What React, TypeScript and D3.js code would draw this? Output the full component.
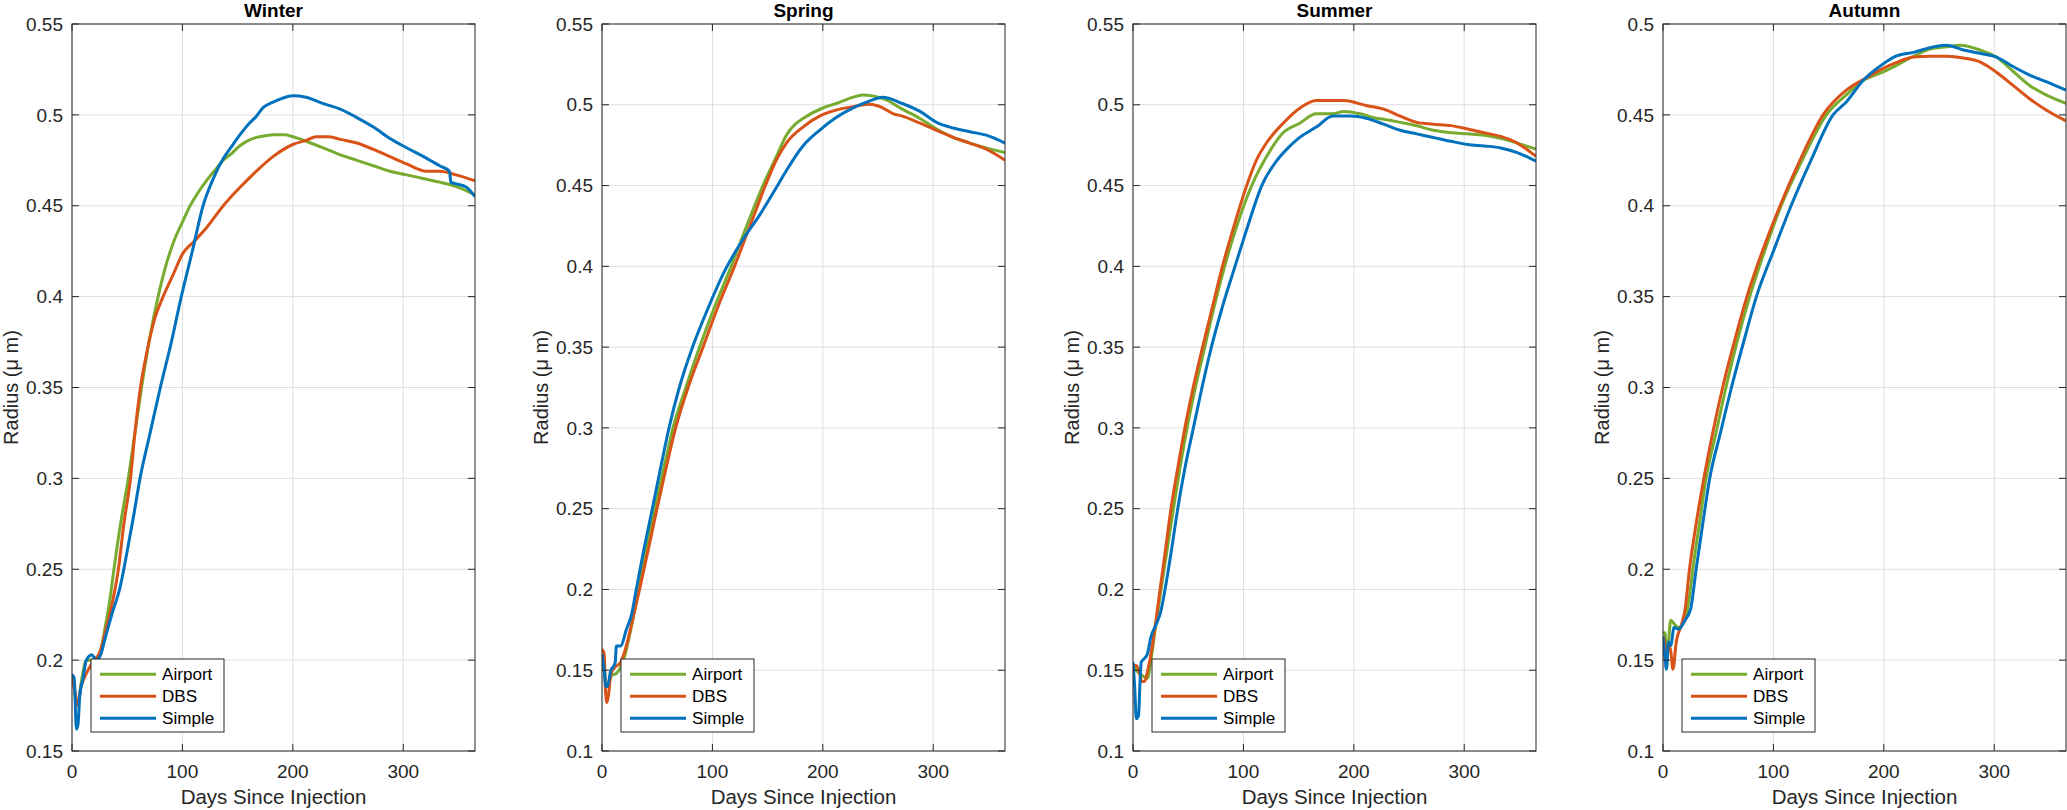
import * as d3 from "d3";

type Pt = [number, number];

// ---- data (day, radius in µm) ----
const seasons = ["Winter", "Spring", "Summer", "Autumn"];
const seriesNames = ["Airport", "DBS", "Simple"];
const seriesColors = ["#77AC30", "#D95319", "#0072BD"];
const yDomains: [number, number][] = [
  [0.15, 0.55],
  [0.1, 0.55],
  [0.1, 0.55],
  [0.1, 0.5],
];
const xTicks = [0, 100, 200, 300];

const winterAirport: Pt[] = [
  [0, 0.192], [2, 0.185], [4, 0.175], [6, 0.178], [9, 0.19], [13, 0.2], [17, 0.2], [21, 0.2],
  [25, 0.203], [30, 0.218], [34, 0.232], [38, 0.25], [44, 0.275], [51, 0.3], [57, 0.325],
  [63, 0.35], [70, 0.376], [78, 0.4], [85, 0.417], [92, 0.43], [100, 0.441], [107, 0.45],
  [115, 0.458], [122, 0.464], [130, 0.47], [137, 0.475], [145, 0.479], [152, 0.483],
  [160, 0.486], [167, 0.4876], [175, 0.4885], [182, 0.489], [193, 0.489], [200, 0.488],
  [212, 0.4855], [227, 0.482], [243, 0.478], [258, 0.475], [273, 0.472], [288, 0.469],
  [303, 0.467], [318, 0.465], [333, 0.463], [348, 0.4605], [365, 0.456],
];
const winterDBS: Pt[] = [
  [0, 0.19], [2, 0.185], [5, 0.175], [8, 0.185], [11, 0.19], [15, 0.195], [20, 0.2], [25, 0.204],
  [30, 0.215], [36, 0.23], [42, 0.25], [47, 0.275], [53, 0.3], [57, 0.325], [62, 0.35],
  [68, 0.37], [75, 0.388], [82.5, 0.4], [91.5, 0.412], [100.6, 0.424], [110, 0.43],
  [122, 0.438], [137, 0.45], [152, 0.46], [167, 0.469], [182, 0.477], [200, 0.4837],
  [212, 0.486], [221, 0.488], [233, 0.488], [243, 0.4865], [258, 0.4845], [273, 0.481],
  [288, 0.477], [303, 0.473], [321, 0.469], [333, 0.469], [348, 0.467], [365, 0.4637],
];
const winterSimple: Pt[] = [
  [0, 0.192], [2, 0.19], [4, 0.162], [5.5, 0.165], [7, 0.18], [10, 0.19], [13, 0.2], [18, 0.203],
  [22, 0.2], [26, 0.203], [30, 0.212], [36, 0.225], [43.5, 0.24], [50, 0.26], [56, 0.28],
  [61.6, 0.3], [70, 0.323], [80, 0.35], [90, 0.375], [99, 0.4], [109, 0.425], [118.7, 0.45],
  [128, 0.465], [137, 0.476], [145, 0.483], [152, 0.489], [160, 0.495], [167, 0.4993],
  [173, 0.504], [182, 0.507], [190, 0.509], [200, 0.5105], [212, 0.5097], [227, 0.5063],
  [243, 0.5032], [258, 0.4985], [273, 0.4933], [288, 0.487], [303, 0.4819], [318, 0.4772],
  [333, 0.472], [342, 0.4689], [343, 0.463], [348, 0.462], [357, 0.4603], [365, 0.455],
];

const springAirport: Pt[] = [
  [0, 0.155], [2, 0.15], [4, 0.14], [6, 0.142], [9, 0.147], [13, 0.148], [17, 0.152], [21, 0.16],
  [26, 0.175], [33, 0.2], [40, 0.225], [47.7, 0.25], [56, 0.275], [64.3, 0.3], [76, 0.325],
  [88.4, 0.35], [102, 0.375], [117, 0.4], [131, 0.425], [145.8, 0.45], [158, 0.468],
  [167, 0.4812], [175, 0.488], [182, 0.4915], [200, 0.498], [212, 0.5008], [227, 0.5046],
  [236, 0.506], [245, 0.5055], [257, 0.5032], [272, 0.4973], [288, 0.4915], [303, 0.485],
  [318, 0.4798], [333, 0.4763], [348, 0.4733], [365, 0.4704],
];
const springDBS: Pt[] = [
  [0, 0.163], [2, 0.16], [3, 0.14], [4.5, 0.13], [6, 0.135], [8, 0.148], [12, 0.152], [17, 0.155],
  [22, 0.165], [28, 0.182], [34, 0.2], [42, 0.225], [49.8, 0.25], [58, 0.275], [66.7, 0.3],
  [78, 0.325], [91.5, 0.35], [105, 0.375], [120, 0.4], [134, 0.425], [148, 0.45], [158, 0.466],
  [167, 0.4763], [182, 0.4862], [197, 0.493], [212, 0.4967], [227, 0.4988], [242, 0.5003],
  [251, 0.4991], [264, 0.4944], [272, 0.493], [288, 0.4886], [303, 0.4842], [318, 0.4798],
  [333, 0.4763], [348, 0.4725], [365, 0.4657],
];
const springSimple: Pt[] = [
  [0, 0.16], [2, 0.15], [3.5, 0.14], [5, 0.14], [8, 0.15], [10, 0.152], [12, 0.155], [13, 0.165],
  [17, 0.165], [22, 0.175], [27, 0.185], [31, 0.2], [38, 0.225], [45.6, 0.25], [53, 0.275],
  [60.7, 0.3], [70, 0.325], [82, 0.35], [96, 0.374], [111, 0.397], [127, 0.416], [143, 0.432],
  [159, 0.45], [167, 0.4593], [182, 0.4745], [197, 0.4842], [212, 0.4921],
  [227, 0.4979], [242, 0.5023], [254, 0.5047], [272, 0.5008], [288, 0.4959], [303, 0.4891],
  [318, 0.4856], [333, 0.4833], [348, 0.4812], [365, 0.4763],
];

const summerAirport: Pt[] = [
  [0, 0.153], [3, 0.15], [6, 0.148], [10, 0.146], [13, 0.145], [16, 0.155], [20, 0.175],
  [25.4, 0.2], [31, 0.225], [36.6, 0.25], [42.5, 0.275], [49, 0.3], [56.5, 0.325], [65, 0.35],
  [73.5, 0.375], [83, 0.4], [94, 0.425], [107.5, 0.45], [121, 0.468], [136, 0.4827],
  [151, 0.4886], [166, 0.4944], [181, 0.4944], [191, 0.4959], [206, 0.4944], [218, 0.492],
  [227, 0.491], [242, 0.4891], [257, 0.487], [272, 0.4842], [288, 0.4827], [303, 0.482],
  [318, 0.4812], [333, 0.4792], [348, 0.4763], [365, 0.4725],
];
const summerDBS: Pt[] = [
  [0, 0.153], [3, 0.153], [6, 0.148], [8, 0.143], [10, 0.143], [14, 0.152], [19, 0.172],
  [24.5, 0.2], [29.5, 0.225], [34.4, 0.25], [40.5, 0.275], [47, 0.3], [54.5, 0.325], [63, 0.35],
  [72, 0.375], [81, 0.4], [91.5, 0.425], [103, 0.45], [112, 0.466], [121, 0.4765],
  [136, 0.4886], [151, 0.4979], [166, 0.5026], [181, 0.5026], [191, 0.5026], [212, 0.4994],
  [227, 0.4973], [242, 0.493], [257, 0.4891], [272, 0.488], [288, 0.4871], [303, 0.485],
  [318, 0.4827], [333, 0.4804], [348, 0.4763], [365, 0.4681],
];
const summerSimple: Pt[] = [
  [0, 0.155], [1.5, 0.14], [3, 0.12], [5, 0.122], [6.5, 0.145], [7.5, 0.155], [10, 0.157],
  [13, 0.16], [16, 0.17], [22, 0.18], [25, 0.186], [29, 0.2], [35, 0.225], [40.5, 0.25],
  [47, 0.275], [54.7, 0.3], [62.5, 0.325], [71, 0.35], [81, 0.375], [92.4, 0.4], [104, 0.425],
  [116.6, 0.45], [130, 0.4652], [140, 0.473], [151, 0.4798], [166, 0.4862], [181, 0.493],
  [197, 0.493], [212, 0.4915], [227, 0.488], [242, 0.4842], [257, 0.482], [272, 0.4798],
  [288, 0.4774], [303, 0.4754], [318, 0.4745], [333, 0.4733], [348, 0.4704], [365, 0.4651],
];

const autumnAirport: Pt[] = [
  [0, 0.165], [2, 0.165], [3, 0.145], [5, 0.16], [7, 0.172], [10, 0.17], [14, 0.168], [20, 0.172],
  [24, 0.185], [27, 0.2], [33, 0.225], [39, 0.25], [48, 0.275], [57, 0.3], [67, 0.325],
  [78.5, 0.35], [92, 0.375], [107, 0.4], [126, 0.425], [148, 0.45], [166, 0.461],
  [181, 0.4688], [199, 0.4735], [211, 0.4771], [227, 0.4823], [242, 0.4862], [257, 0.4875],
  [269, 0.4883], [287, 0.4857], [302, 0.4818], [317, 0.474], [332, 0.4662], [347, 0.461],
  [365, 0.4563],
];
const autumnDBS: Pt[] = [
  [0, 0.163], [2, 0.158], [3, 0.15], [5, 0.158], [7, 0.155], [9, 0.145], [12, 0.16], [17, 0.17],
  [20, 0.178], [24, 0.2], [30, 0.225], [37, 0.25], [45, 0.275], [54, 0.3], [64.5, 0.325],
  [76, 0.35], [90, 0.375], [106, 0.4], [124, 0.425], [145, 0.45], [166, 0.4636],
  [181, 0.4693], [196, 0.4745], [211, 0.4787], [227, 0.4818], [242, 0.4823], [257, 0.4823],
  [272, 0.4813], [287, 0.4792], [302, 0.4735], [317, 0.4662], [332, 0.4589], [347, 0.4527],
  [365, 0.4467],
];
const autumnSimple: Pt[] = [
  [0, 0.163], [2, 0.15], [3, 0.145], [5, 0.16], [7, 0.158], [10, 0.168], [14, 0.167],
  [20, 0.172], [25, 0.178], [30, 0.2], [36, 0.225], [42.3, 0.25], [52, 0.275], [62, 0.3],
  [73, 0.325], [84.6, 0.35], [100, 0.375], [116, 0.4], [134, 0.425], [154, 0.45],
  [166, 0.4571], [181, 0.4688], [199, 0.4779], [211, 0.4823], [227, 0.4844], [242, 0.487],
  [257, 0.4883], [272, 0.4857], [287, 0.4839], [302, 0.4818], [317, 0.4766], [332, 0.4719],
  [347, 0.4683], [365, 0.4636],
];

const panelData: Pt[][][] = [
  [winterAirport, winterDBS, winterSimple],
  [springAirport, springDBS, springSimple],
  [summerAirport, summerDBS, summerSimple],
  [autumnAirport, autumnDBS, autumnSimple],
];

// ---- layout ----
const W = 2067;
const H = 810;
const panelLefts = [72, 602, 1133, 1663];
const plotW = 403;
const plotTop = 24;
const plotBottom = 751;
const font = "'Liberation Sans', Arial, Helvetica, sans-serif";
const axisColor = "#262626";
const gridColor = "#dfdfdf";
const tickLen = 7;

function Panel({ idx }: { idx: number }) {
  const left = panelLefts[idx];
  const right = left + plotW;
  const [lo, hi] = yDomains[idx];
  const x = d3.scaleLinear().domain([0, 365]).range([left, right]);
  const y = d3.scaleLinear().domain([lo, hi]).range([plotBottom, plotTop]);
  const yTicks = d3
    .range(Math.round(lo * 100), Math.round(hi * 100) + 1, 5)
    .map((v) => v / 100);

  const line = d3
    .line<Pt>()
    .x((d) => x(d[0]))
    .y((d) => y(d[1]))
    .curve(d3.curveMonotoneX);

  const clipId = `clip-${idx}`;
  const legX = left + 19;
  const legY = plotBottom - 19 - 73;

  return (
    <g>
      <defs>
        <clipPath id={clipId}>
          <rect x={left} y={plotTop} width={plotW} height={plotBottom - plotTop} />
        </clipPath>
      </defs>

      {/* grid */}
      {xTicks.map((t) => (
        <line key={`gx${t}`} x1={x(t)} x2={x(t)} y1={plotTop} y2={plotBottom} stroke={gridColor} strokeWidth={1} />
      ))}
      {yTicks.map((t) => (
        <line key={`gy${t}`} x1={left} x2={right} y1={y(t)} y2={y(t)} stroke={gridColor} strokeWidth={1} />
      ))}

      {/* series */}
      <g clipPath={`url(#${clipId})`}>
        {panelData[idx].map((s, i) => (
          <path key={i} d={line(s) ?? ""} fill="none" stroke={seriesColors[i]} strokeWidth={3} strokeLinejoin="round" />
        ))}
      </g>

      {/* box + ticks */}
      <rect x={left} y={plotTop} width={plotW} height={plotBottom - plotTop} fill="none" stroke={axisColor} strokeWidth={1} />
      {xTicks.map((t) => (
        <g key={`tx${t}`} stroke={axisColor} strokeWidth={1}>
          <line x1={x(t)} x2={x(t)} y1={plotBottom} y2={plotBottom - tickLen} />
          <line x1={x(t)} x2={x(t)} y1={plotTop} y2={plotTop + tickLen} />
        </g>
      ))}
      {yTicks.map((t) => (
        <g key={`ty${t}`} stroke={axisColor} strokeWidth={1}>
          <line x1={left} x2={left + tickLen} y1={y(t)} y2={y(t)} />
          <line x1={right} x2={right - tickLen} y1={y(t)} y2={y(t)} />
        </g>
      ))}

      {/* tick labels */}
      {xTicks.map((t) => (
        <text key={`lx${t}`} x={x(t)} y={778} textAnchor="middle" fontSize={19} fill={axisColor} fontFamily={font}>
          {t}
        </text>
      ))}
      {yTicks.map((t) => (
        <text key={`ly${t}`} x={left - 9} y={y(t)} dy="0.35em" textAnchor="end" fontSize={19} fill={axisColor} fontFamily={font}>
          {String(t)}
        </text>
      ))}

      {/* labels */}
      <text x={(left + right) / 2} y={17} textAnchor="middle" fontSize={19} fontWeight="bold" fill="#000" fontFamily={font}>
        {seasons[idx]}
      </text>
      <text x={(left + right) / 2} y={804} textAnchor="middle" fontSize={20.5} fill={axisColor} fontFamily={font}>
        Days Since Injection
      </text>
      <text
        transform={`translate(${left - 61},${(plotTop + plotBottom) / 2}) rotate(-90)`}
        textAnchor="middle"
        dy="0.35em"
        fontSize={20}
        fill={axisColor}
        fontFamily={font}
      >
        Radius (μ m)
      </text>

      {/* legend */}
      <rect x={legX} y={legY} width={133} height={73} fill="#fff" stroke={axisColor} strokeWidth={1} />
      {seriesNames.map((n, i) => (
        <g key={n}>
          <line x1={legX + 9} x2={legX + 65} y1={legY + 15.3 + i * 22} y2={legY + 15.3 + i * 22} stroke={seriesColors[i]} strokeWidth={3} />
          <text x={legX + 71} y={legY + 15.3 + i * 22} dy="0.35em" fontSize={17.1} fill="#000" fontFamily={font}>
            {n}
          </text>
        </g>
      ))}
    </g>
  );
}

export default function App() {
  return (
    <svg
      width={W}
      height={H}
      viewBox={`0 0 ${W} ${H}`}
      style={{ position: "absolute", left: 0, top: 0, background: "#fff" }}
    >
      <rect width={W} height={H} fill="#fff" />
      {seasons.map((_, i) => (
        <Panel key={i} idx={i} />
      ))}
    </svg>
  );
}
